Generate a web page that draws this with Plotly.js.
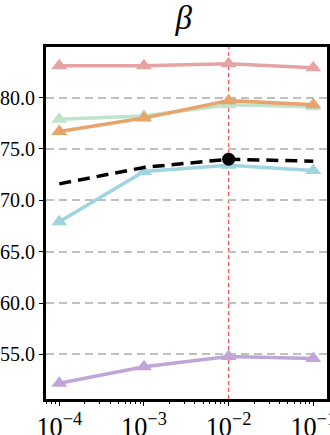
<!DOCTYPE html>
<html>
<head>
<meta charset="utf-8">
<script src="https://cdn.plot.ly/plotly-3.0.1.min.js"></script>
<style>body{margin:0;padding:0;background:#fff;}</style>
</head>
<body>
<div id="chart" style="width:330px;height:435px;"></div>
<script>
var betaValues = [0.0001, 0.001, 0.01, 0.1];
var redSeries = [83.1, 83.1, 83.3, 82.9];
var orangeSeries = [76.7, 78.0, 79.7, 79.3];
var greenSeries = [77.9, 78.2, 79.3, 79.1];
var meanSeries = [71.6, 73.2, 74.0, 73.8];
var blueSeries = [67.9, 72.8, 73.4, 72.9];
var purpleSeries = [52.2, 53.8, 54.8, 54.6];
var bestBeta = 0.01;
var yTicks = [55, 60, 65, 70, 75, 80];

function tri(y, color) {
  return {
    x: betaValues, y: y, mode: "lines+markers", type: "scatter",
    line: {color: color, width: 3.5},
    marker: {symbol: "triangle-up", size: 14, color: color},
    hoverinfo: "skip"
  };
}

var data = [
  tri(purpleSeries, "#c0a6d8"),
  tri(blueSeries, "#a0d4e0"),
  {
    x: betaValues, y: meanSeries, mode: "lines", type: "scatter",
    line: {color: "#000", width: 3.5, dash: "12px,7px"}
  },
  tri(greenSeries, "#bfe3cb"),
  tri(orangeSeries, "#e8a46a"),
  tri(redSeries, "#e6a3a3"),
  {
    x: [bestBeta], y: [meanSeries[betaValues.indexOf(bestBeta)]],
    mode: "markers", type: "scatter",
    marker: {symbol: "circle", size: 13, color: "#000"}
  }
];

var layout = {
  width: 330, height: 435,
  margin: {l: 46, r: 3, t: 47, b: 36},
  showlegend: false,
  paper_bgcolor: "#fff", plot_bgcolor: "#fff",
  font: {family: "Liberation Serif", size: 20, color: "#000"},
  title: {
    text: "<i>β</i>", x: 0.49, xref: "paper", y: 0.96, yanchor: "middle",
    font: {family: "Liberation Serif", size: 33, color: "#000"}
  },
  xaxis: {
    type: "log", range: [-4.157, -0.838],
    dtick: 1, exponentformat: "power", showexponent: "all",
    ticklabeloverflow: "allow",
    showgrid: false, zeroline: false,
    showline: true, mirror: true, linecolor: "#000", linewidth: 3,
    ticks: "outside", ticklen: 4, tickcolor: "#000",
    minor: {ticks: "outside", ticklen: 2, tickcolor: "#000", dtick: "D1", showgrid: false},
    tickfont: {family: "Liberation Serif", size: 21}
  },
  yaxis: {
    range: [50.66, 84.92],
    tickvals: yTicks, tickformat: ".1f",
    showgrid: true, gridcolor: "#c0c0c0", gridwidth: 2, griddash: "8px,5px",
    zeroline: false,
    showline: true, mirror: true, linecolor: "#000", linewidth: 3,
    ticks: "outside", ticklen: 4, tickcolor: "#000",
    tickfont: {family: "Liberation Serif", size: 20}
  },
  shapes: [{
    type: "line", xref: "x", yref: "paper",
    x0: bestBeta, x1: bestBeta, y0: 0, y1: 1,
    line: {color: "#ff5555", width: 1.3, dash: "4px,3px"},
    layer: "below"
  }]
};

Plotly.newPlot("chart", data, layout, {staticPlot: true});
</script>
</body>
</html>
